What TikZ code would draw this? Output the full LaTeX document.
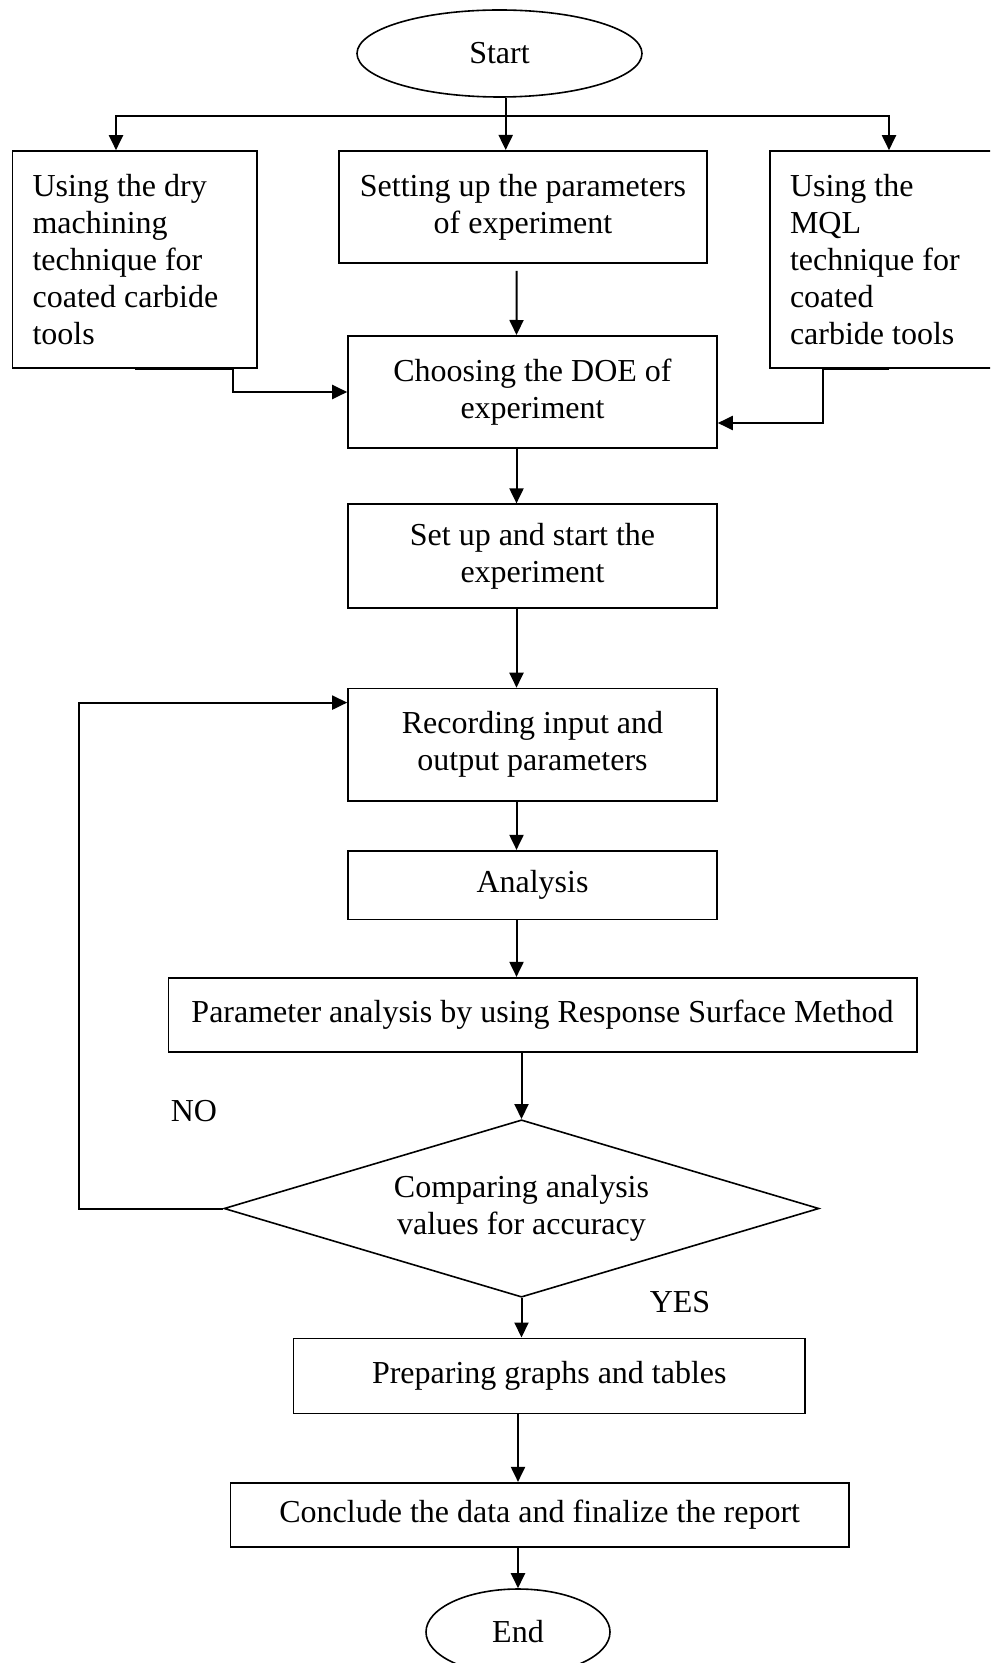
\documentclass[tikz,border=0pt]{standalone}
\usepackage{fontspec}
\setmainfont{Liberation Serif}
\usetikzlibrary{shapes.geometric,arrows.meta}

\newcommand{\chartsize}{\fontsize{16}{18.5}\selectfont}

\tikzset{
  block/.style={draw, line width=0.8pt, font=\chartsize, align=center, inner sep=3pt},
  sideblock/.style={block, align=flush left, inner xsep=10pt, minimum height=108.5pt},
  terminal/.style={draw, ellipse, line width=0.8pt, font=\chartsize, inner sep=0pt},
  decision/.style={draw, diamond, shape aspect=3.35, line width=0.8pt, font=\chartsize,
    align=center, inner sep=0pt, minimum width=297.5pt, minimum height=88.7pt},
  flow/.style={-{Triangle[length=7.5pt,width=7pt]}, line width=1pt},
  answer/.style={font=\chartsize}
}

\begin{document}
\begin{tikzpicture}[x=0.5pt,y=-0.5pt]
      \clip (0,0) rectangle (990,1663);
      \node[terminal, minimum width=142.5pt, minimum height=43.5pt] (start) at (499.5,53.5) {Start};
      \node[sideblock, text width=102.2pt] (dry) at (134.8,259.5)
        {Using the dry\\machining\\technique for\\coated carbide\\tools};
      \node[block, minimum width=184pt, minimum height=56.2pt] (setparam) at (523,207)
        {Setting up the parameters\\of experiment};
      \node[sideblock, text width=99pt] (mql) at (889,259.5)
        {Using the\\MQL\\technique for\\coated\\carbide tools};
      \node[block, minimum width=184.5pt, minimum height=56.2pt] (doe) at (532.5,392)
        {Choosing the DOE of\\experiment};
      \node[block, minimum width=184.5pt, minimum height=51.8pt] (setup) at (532.5,556)
        {Set up and start the\\experiment};
      \node[block, minimum width=184.5pt, minimum height=56.1pt] (record) at (532.5,744.6)
        {Recording input and\\output parameters};
      \node[block, minimum width=184.5pt, minimum height=34.3pt] (analysis) at (532.5,885) {Analysis};
      \node[block, minimum width=374.2pt, minimum height=37pt] (rsm) at (542.5,1014.7)
        {Parameter analysis by using Response Surface Method};
      \node[decision] (compare) at (521.5,1208.5) {Comparing analysis\\values for accuracy};
      \node[block, minimum width=255.7pt, minimum height=37.5pt] (graphs) at (549.3,1375.8)
        {Preparing graphs and tables};
      \node[block, minimum width=309.3pt, minimum height=32pt] (report) at (539.7,1514.7)
        {Conclude the data and finalize the report};
      \node[terminal, minimum width=92pt, minimum height=43pt] (end) at (518,1632) {End};
      \node[answer] (no) at (194,1111) {NO};
      \node[answer] (yes) at (680,1302) {YES};
      \coordinate (hub) at (505.7,115.7);
      \begin{scope}[flow]
        \draw[-] (start.south -| hub) -- (hub);
        \draw (hub) -| ([xshift=-9.4pt]dry.north);
        \draw (hub) -- (hub |- setparam.north);
        \draw (hub) -| (mql.north);
        \draw ([xshift=-3.2pt,yshift=-3.5pt]setparam.south) -- ([xshift=-8pt]doe.north);
        \draw (dry.south) -- ++(98,0) |- (doe.west);
        \draw (mql.south) -- ++(-66,0) |- ([yshift=-15.5pt]doe.east);
        \draw ([xshift=-8pt]doe.south) -- ([xshift=-8pt]setup.north);
        \draw ([xshift=-8pt]setup.south) -- ([xshift=-8pt]record.north);
        \draw ([xshift=-8pt]record.south) -- ([xshift=-8pt]analysis.north);
        \draw ([xshift=-8pt]analysis.south) -- ([xshift=-13pt]rsm.north);
        \draw (rsm.south -| compare.north) -- (compare.north);
        \draw (compare.south) -- (compare.south |- graphs.north);
        \draw (end.north |- graphs.south) -- (end.north |- report.north);
        \draw (report.south -| end.north) -- (end.north);
        \draw (compare.west) -- ++(-144,0) |- ([yshift=21pt]record.west);
      \end{scope}
    \end{tikzpicture}
\end{document}
